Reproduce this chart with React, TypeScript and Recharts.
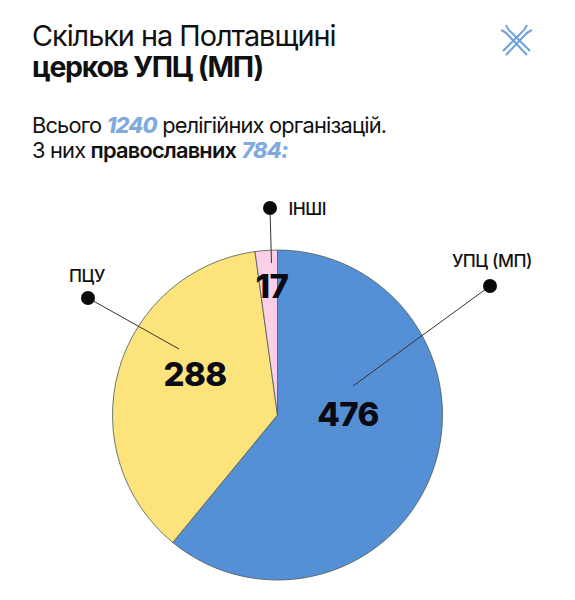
import React from "react";
import { PieChart, Pie, Cell } from "recharts";

const categories = ["УПЦ (МП)", "ПЦУ", "ІНШІ"];
const values = [476, 288, 17];
const colors = ["#5590d6", "#fde37b", "#fbcfe6"];

const data = categories.map((name, i) => ({ name, value: values[i] }));

// annotation layout relative to the pie centre
const dots = [[212.5, -129], [-189.5, -117], [-7.5, -207]];
const lineEnds = [[75.5, -29], [-98.5, -66], [-6, -152]];
const nameAt = [[214.5, -155, "middle"], [-190.5, -140, "middle"], [11, -207, "start"]];
const valueAt = [[70.5, -1], [-82.5, -41], [-5.5, -129]];

const font = "Inter, Lato, sans-serif";

function renderLabel(p: any) {
  const { cx, cy, index, value, name } = p;
  const [dx, dy] = dots[index];
  const [ex, ey] = lineEnds[index];
  const [nx, ny, anchor] = nameAt[index] as [number, number, any];
  const [vx, vy] = valueAt[index];
  return (
    <g key={index}>
      <line x1={cx + dx} y1={cy + dy} x2={cx + ex} y2={cy + ey} stroke="#333" strokeWidth={1} />
      <circle cx={cx + dx} cy={cy + dy} r={7} fill="#0a0a0a" />
      <text x={cx + nx} y={cy + ny} textAnchor={anchor} dominantBaseline="central" fontFamily={font} fontSize={17.5} fontWeight={500} letterSpacing={-0.5} fill="#111">{name}</text>
      <text x={cx + vx} y={cy + vy} textAnchor="middle" dominantBaseline="central" fontFamily={font} fontSize={33} fontWeight={800} letterSpacing={-0.6} fill="#0a0a14">{value}</text>
    </g>
  );
}

const textBase: React.CSSProperties = { position: "absolute", left: 32, whiteSpace: "nowrap", fontFamily: font, color: "#111" };
const accent: React.CSSProperties = { color: "#80a9de", fontWeight: 800, fontStyle: "italic" };

export default function App() {
  return (
    <div style={{ position: "absolute", left: 0, top: 0, width: 575, height: 600, background: "#fff", overflow: "hidden" }}>
      <div style={{ ...textBase, top: 21, fontSize: 28.8, lineHeight: "30px", letterSpacing: -1 }}>Скільки на Полтавщині</div>
      <div style={{ ...textBase, top: 52, fontSize: 28.5, lineHeight: "30px", letterSpacing: -1.3, fontWeight: 700 }}>церков УПЦ (МП)</div>
      <div style={{ ...textBase, top: 113, fontSize: 21.8, lineHeight: "24px", letterSpacing: -0.8 }}>
        Всього <span style={accent}>1240</span> релігійних організацій.
      </div>
      <div style={{ ...textBase, top: 138, fontSize: 21.8, lineHeight: "24px", letterSpacing: -0.8 }}>
        3 них <b style={{ fontWeight: 600 }}>православних</b> <span style={accent}>784:</span>
      </div>
      <svg style={{ position: "absolute", left: 500, top: 24 }} width={33} height={33} viewBox="0 0 33 33" fill="none" stroke="#6fa0dc" strokeWidth={2}>
        <path d="M6 1 Q8 6 12 9 L30 27" />
        <path d="M1 6 Q6 8 9 12 L27 31" />
        <path d="M27 1 Q25 6 21 9 L3 27" />
        <path d="M32 6 Q27 8 24 12 L6 31" />
      </svg>
      <div style={{ position: "absolute", left: 0, top: 0 }}>
        <PieChart width={575} height={600} margin={{ top: 0, right: 0, bottom: 0, left: 0 }}>
          <Pie
            data={data}
            dataKey="value"
            nameKey="name"
            cx={277.5}
            cy={415}
            outerRadius={165}
            startAngle={90}
            endAngle={-270}
            stroke="#4a5a55"
            strokeWidth={0.8}
            isAnimationActive={false}
            label={renderLabel}
            labelLine={false}
          >
            {data.map((d, i) => (
              <Cell key={d.name} fill={colors[i]} />
            ))}
          </Pie>
        </PieChart>
      </div>
    </div>
  );
}
